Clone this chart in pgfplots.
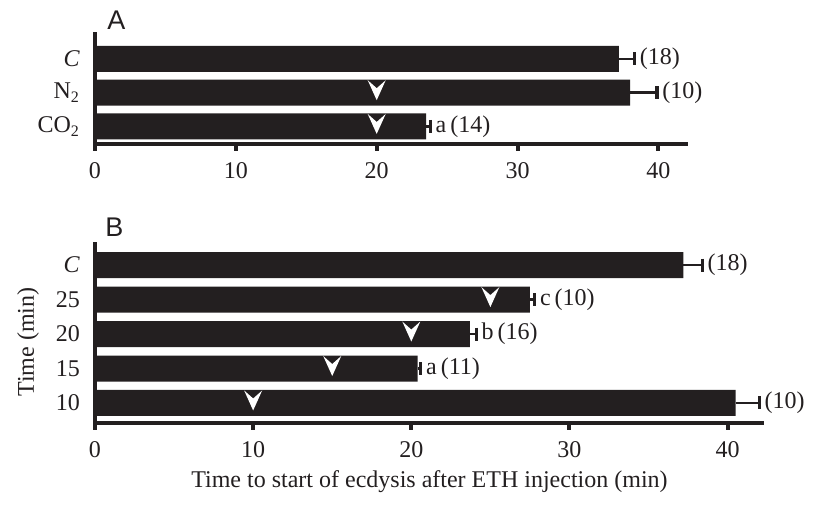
\documentclass[border=0pt]{standalone}
\usepackage{pgfplots}
\pgfplotsset{compat=1.18}
\usepackage{fontspec}
\setmainfont{Liberation Serif}
\newfontfamily\panelfont{Liberation Sans}
\definecolor{barc}{RGB}{35,31,32}
\pgfdeclareplotmark{chev}{%
  \pgfpathmoveto{\pgfpoint{-4.5pt}{6.25pt}}%
  \pgfpathlineto{\pgfpoint{0pt}{2.25pt}}%
  \pgfpathlineto{\pgfpoint{4.5pt}{6.25pt}}%
  \pgfpathlineto{\pgfpoint{0pt}{-3.75pt}}%
  \pgfpathclose\pgfusepathqfill}
\pgfplotsset{
  panel/.style={
    scale only axis, clip=false, xmin=0,
    axis x line*=bottom, axis y line*=left,
    axis line style={line width=2pt, -, color=barc},
    xtick={0,10,20,30,40}, xtick align=outside,
    major tick length=3.5pt,
    xtick style={line width=2pt, color=barc},
    ytick style={draw=none},
    tick label style={font=\fontsize{12}{14}\selectfont, color=barc},
    xticklabel style={yshift=-2pt},
    yticklabel style={xshift=-4pt},
    /pgf/number format/assume math mode=true,
    label style={font=\fontsize{12}{14}\selectfont, color=barc},
  },
  mybar/.style={xbar, bar width=13pt, fill=barc, draw=none,
    error bars/.cd, x dir=plus, x explicit,
    error bar style={line width=1.4pt, color=barc},
    error mark options={line width=1.6pt, mark size=3.25pt, color=barc, rotate=90}},
  mylab/.style={only marks, mark=none, nodes near coords,
    point meta=explicit symbolic,
    nodes near coords align={anchor=west},
    every node near coord/.append style={anchor=west, inner sep=0pt, xshift=2.5pt,
      font=\fontsize{12}{14}\selectfont, color=barc}},
  mychev/.style={only marks, mark=chev, mark options={fill=white, draw=none}},
}
\begin{document}
\begin{tikzpicture}
\path (0pt,0pt) rectangle (408pt,253.5pt);
% Panel A
\begin{axis}[panel, at={(47.5pt,181.5pt)}, anchor=south west,
  width=296.5pt, height=56pt, xmax=42.1, ymin=0.48, ymax=3.8,
  ytick={1,2,3}, yticklabels={CO\textsubscript{2}, N\textsubscript{2}, \textit{C}}]
\addplot[mybar] coordinates {(23.5,1) +- (0.3,0) (38.0,2) +- (1.9,0) (37.2,3) +- (1.1,0)};
\addplot[mychev] coordinates {(20,1) (20,2)};
\addplot[mylab] coordinates {(23.8,1) [a\,(14)] (39.9,2) [(10)] (38.3,3) [(18)]};
\node[anchor=base west, inner sep=0pt, font=\panelfont\fontsize{13.5}{15}\selectfont, color=barc]
  at (axis description cs:0.02,1.018) {A};
\end{axis}
% Panel B
\begin{axis}[panel, at={(47.5pt,42pt)}, anchor=south west,
  width=334.5pt, height=90.5pt, xmax=42.3, ymin=0.42, ymax=5.67,
  ytick={1,2,3,4,5}, yticklabels={10,15,20,25,\textit{C}},
  xlabel={Time to start of ecdysis after ETH injection (min)},
  ylabel={Time (min)},
  ylabel style={at={(axis description cs:-0.1,0.447)}, anchor=center}]
\addplot[mybar] coordinates {(40.5,1) +- (1.5,0) (20.4,2) +- (0.2,0) (23.7,3) +- (0.4,0) (27.5,4) +- (0.3,0) (37.2,5) +- (1.2,0)};
\addplot[mychev] coordinates {(10,1) (15,2) (20,3) (25,4)};
\addplot[mylab] coordinates {(42.0,1) [(10)] (20.6,2) [a\,(11)] (24.1,3) [b\,(16)] (27.8,4) [c\,(10)] (38.4,5) [(18)]};
\node[anchor=base west, inner sep=0pt, font=\panelfont\fontsize{13.5}{15}\selectfont, color=barc]
  at (axis description cs:0.015,1.028) {B};
\end{axis}
\end{tikzpicture}
\end{document}
